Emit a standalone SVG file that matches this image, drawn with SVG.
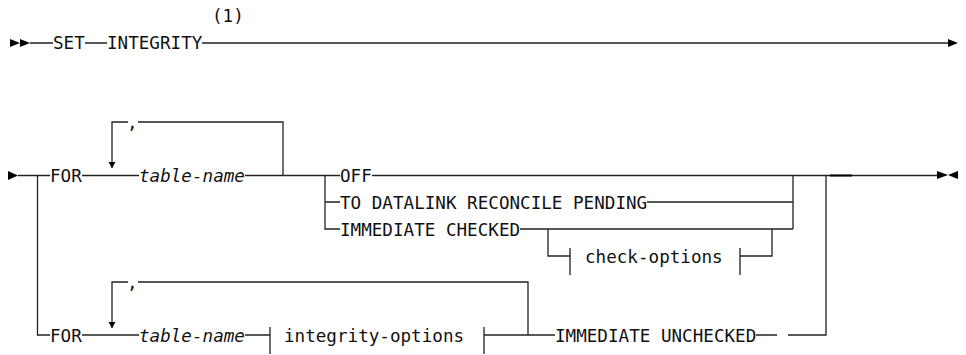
<svg xmlns="http://www.w3.org/2000/svg" width="966" height="355" viewBox="0 0 966 355">
<style>
text{font-family:"DejaVu Sans Mono","Liberation Mono",monospace;font-size:17.6px;fill:#111}
.it{font-style:italic}
.ln{stroke:#222;stroke-width:1.3;fill:none}
.tk{stroke:#222;stroke-width:1.3;fill:none}
.ah{fill:#000}
</style>
<rect width="966" height="355" fill="#fff"/>
<g id="connectors">
<!-- row 1 -->
<polygon class="ah" points="10,39 20,43 10,47"/>
<polygon class="ah" points="20,39 30,43 20,47"/>
<path class="ln" d="M30 43H53M85 43H107M202 43H948"/>
<polygon class="ah" points="948,39 958,43 948,47"/>
<!-- row 2 -->
<polygon class="ah" points="8,171 18,175.5 8,180"/>
<path class="ln" d="M18 175.5H50M37.5 175.5V335H50"/>
<path class="ln" d="M82 175.5H139"/>
<path class="ln" d="M112 168V122H128M138 122H283V175.5"/>
<polygon class="ah" points="108.5,162 115.5,162 112,168"/>
<path class="ln" d="M245 175.5H340M325 175.5V229H340M325 202H340"/>
<path class="ln" d="M372 175.5H830M647 202H793M520 229H793M793 175.5V229"/>
<path class="ln" d="M548 229V256H570M740 256H772V229"/>
<path class="tk" d="M570 248V275M740 248V275"/>
<path d="M830 175.5H852" stroke="#000" stroke-width="2.2"/>
<path class="ln" d="M852 175.5H937"/>
<polygon class="ah" points="937,171 948,175 937,179"/>
<polygon class="ah" points="958,171 948,175 958,179"/>
<!-- row 3 -->
<path class="ln" d="M82 335H139"/>
<path class="ln" d="M112 328V282H128M138 282H528V335"/>
<polygon class="ah" points="108.5,322 115.5,322 112,328"/>
<path class="ln" d="M245 335H270M484 335H555M756 335H777M788 335H826V175.5"/>
<path class="tk" d="M270 327V354M484 327V354"/>
</g>
<g id="n-set"><text x="53" y="49">SET</text></g>
<g id="n-integrity"><text x="107" y="49">INTEGRITY</text></g>
<g id="n-note"><text x="212" y="22">(1)</text></g>
<g id="n-for1"><text x="50" y="182">FOR</text></g>
<g id="n-comma1"><text x="127" y="129">,</text></g>
<g id="n-table1"><text class="it" x="139" y="182">table-name</text></g>
<g id="n-off"><text x="340" y="182">OFF</text></g>
<g id="n-datalink"><text x="340" y="208.5">TO DATALINK RECONCILE PENDING</text></g>
<g id="n-checked"><text x="340" y="235.5">IMMEDIATE CHECKED</text></g>
<g id="n-checkopts"><text x="585" y="262.5">check-options</text></g>
<g id="n-for2"><text x="50" y="341.5">FOR</text></g>
<g id="n-comma2"><text x="127" y="289">,</text></g>
<g id="n-table2"><text class="it" x="139" y="341.5">table-name</text></g>
<g id="n-intopts"><text x="284" y="341.5">integrity-options</text></g>
<g id="n-unchecked"><text x="555" y="341.5">IMMEDIATE UNCHECKED</text></g>
</svg>
